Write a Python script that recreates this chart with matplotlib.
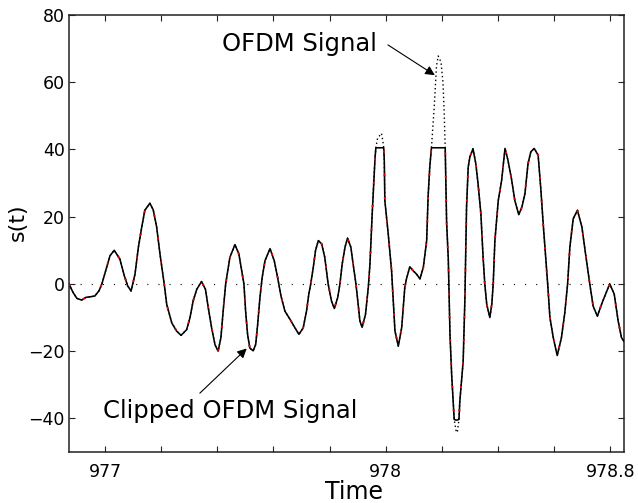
# Clipped vs. unclipped OFDM signal around t = 977..978.8

import numpy as np
import matplotlib
matplotlib.use('Agg')
import matplotlib.pyplot as plt

# time samples
t = [976.872, 976.886, 976.900, 976.917, 976.932, 976.950, 976.964, 976.979,
     976.989, 977.006, 977.018, 977.033, 977.053, 977.069, 977.081, 977.093,
     977.107, 977.119, 977.131, 977.142, 977.160, 977.172, 977.184, 977.196,
     977.211, 977.220, 977.238, 977.255, 977.271, 977.291, 977.303, 977.314,
     977.327, 977.344, 977.358, 977.368, 977.380, 977.392, 977.403, 977.413,
     977.421, 977.430, 977.445, 977.463, 977.477, 977.487, 977.495, 977.501,
     977.508, 977.516, 977.528, 977.537, 977.544, 977.552, 977.560, 977.570,
     977.588, 977.603, 977.615, 977.627, 977.641, 977.659, 977.677, 977.691,
     977.706, 977.718, 977.726, 977.733, 977.742, 977.750, 977.760, 977.772,
     977.783, 977.795, 977.807, 977.817, 977.829, 977.837, 977.845, 977.855,
     977.864, 977.876, 977.884, 977.894, 977.902, 977.908, 977.916, 977.928,
     977.938, 977.944, 977.952, 977.962, 977.965, 977.971, 977.985, 977.990,
     977.993, 977.995, 977.997, 978.009, 978.021, 978.027, 978.033, 978.045,
     978.057, 978.068, 978.074, 978.086, 978.098, 978.110, 978.122, 978.134,
     978.146, 978.151, 978.157, 978.163, 978.173, 978.181, 978.187, 978.197,
     978.204, 978.208, 978.212, 978.217, 978.223, 978.229, 978.235, 978.244,
     978.250, 978.255, 978.261, 978.264, 978.276, 978.282, 978.288, 978.294,
     978.300, 978.311, 978.321, 978.329, 978.339, 978.347, 978.353, 978.360,
     978.371, 978.378, 978.383, 978.389, 978.401, 978.413, 978.425, 978.435,
     978.448, 978.460, 978.474, 978.485, 978.496, 978.507, 978.517, 978.529,
     978.543, 978.553, 978.561, 978.569, 978.577, 978.585, 978.597, 978.611,
     978.626, 978.638, 978.648, 978.656, 978.668, 978.683, 978.699, 978.712,
     978.727, 978.739, 978.754, 978.771, 978.783, 978.798, 978.814, 978.828,
     978.840, 978.848]

# original (unclipped) OFDM signal
s = [0.0, -2.5, -4.3, -4.8, -4.0, -3.8, -3.6, -2.0,
     0.0, 4.9, 8.4, 10.0, 7.4, 2.4, -0.6, -2.1,
     2.9, 10.9, 16.9, 21.9, 24.0, 22.0, 17.0, 8.9,
     0.0, -6.1, -11.6, -14.0, -15.3, -13.6, -10.0, -5.1,
     -1.6, 0.7, -1.6, -7.1, -13.1, -18.1, -20.0, -16.0,
     -8.1, 0.0, 7.9, 11.7, 8.9, 3.9, 0.0, -8.1,
     -15.0, -19.1, -19.9, -18.0, -12.0, -4.1, 1.9, 6.9,
     10.5, 6.9, 1.9, -3.6, -8.1, -10.5, -13.1, -15.0,
     -13.1, -8.1, -3.1, 0.0, 4.9, 9.9, 12.9, 11.9,
     7.9, 0.0, -5.1, -7.3, -4.1, 0.0, 5.9, 10.9,
     13.6, 10.9, 5.9, 0.0, -6.1, -11.0, -12.9, -9.1,
     -1.1, 6.0, 21.0, 37.4, 40.5, 43.3, 44.8, 42.5,
     40.5, 36.8, 24.8, 14.9, 3.9, -5.1, -14.0, -18.5,
     -13.0, -1.1, 1.5, 5.1, 3.9, 2.9, 1.5, 4.9,
     12.9, 25.8, 34.8, 40.5, 52.8, 64.8, 67.8, 66.0,
     60.0, 52.0, 40.5, 18.4, 7.4, -15.0, -27.0, -40.3,
     -43.5, -44.2, -40.3, -35.0, -23.0, -5.0, 22.8, 34.8,
     37.8, 40.2, 35.8, 29.8, 21.0, 7.9, 0.0, -6.1,
     -10.0, -6.0, 0.0, 12.9, 24.8, 30.8, 40.3, 37.0,
     31.3, 24.8, 20.6, 22.8, 26.8, 35.8, 39.3, 40.3,
     38.3, 27.8, 17.9, 8.9, 0.0, -10.0, -16.0, -21.3,
     -16.0, -8.6, 0.0, 10.9, 19.4, 21.9, 16.9, 8.9,
     0.0, -6.6, -9.6, -5.6, -3.1, 0.0, -3.0, -11.0,
     -16.0, -17.0]

clip_level = 40.5

xticks = [977.0, 977.2, 977.4, 977.6, 977.8, 978.0, 978.2, 978.4, 978.6, 978.8]
xticklabels = ['977', '', '', '', '', '978', '', '', '', '978.8']
yticks = [-40, -20, 0, 20, 40, 60, 80]


def main():
    t_arr = np.array(t)
    s_arr = np.array(s)
    s_clip = np.clip(s_arr, -clip_level, clip_level)

    plt.rcParams['font.family'] = 'DejaVu Sans'
    fig = plt.figure(figsize=(6.38, 5.03), dpi=100)
    ax = fig.add_axes([0.1082, 0.1014, 0.8699, 0.8688])

    # zero reference line
    ax.axhline(0, color='black', lw=0.8, ls=(0, (1, 9)), zorder=1)

    # original signal (dotted) under the clipped one
    ax.plot(t_arr, s_arr, color='black', lw=1.0, ls=(0, (1, 2)), zorder=2)
    ax.plot(t_arr, s_clip, color='black', lw=1.15, zorder=3)
    # sparse red dots along the curve
    ax.plot(t_arr, s_clip, color='red', lw=1.4, ls=(0, (1, 11)), zorder=4)

    ax.set_xlim(976.872, 978.849)
    ax.set_ylim(-50, 80)
    ax.set_xticks(xticks)
    ax.set_xticklabels(xticklabels)
    ax.set_yticks(yticks)
    ax.tick_params(direction='in', top=True, right=True, length=4,
                   width=0.8, labelsize=12.5, color='#222222')
    ax.tick_params(axis='x', pad=8)
    ax.tick_params(axis='y', pad=3)
    for sp in ax.spines.values():
        sp.set_linewidth(1.1)
        sp.set_color('#222222')

    ax.set_xlabel('Time', fontsize=17)
    ax.xaxis.set_label_coords(0.513, -0.064)
    ax.xaxis.label.set_va('top')
    ax.set_ylabel('s(t)', fontsize=16)
    ax.yaxis.set_label_coords(-0.074, 0.526)

    arrow = dict(arrowstyle='-|>', color='black', lw=0.8,
                 mutation_scale=14, shrinkA=0, shrinkB=0)
    ax.annotate('', xy=(978.175, 62.1), xytext=(978.008, 71.1),
                arrowprops=arrow)
    ax.text(977.417, 69.3, 'OFDM Signal', fontsize=17.5,
            ha='left', va='baseline')
    ax.annotate('', xy=(977.505, -19.2), xytext=(977.338, -32.5),
                arrowprops=arrow)
    ax.text(976.993, -39.9, 'Clipped OFDM Signal', fontsize=17.5,
            ha='left', va='baseline')

    fig.savefig('out.png', dpi=100)


if __name__ == '__main__':
    main()
